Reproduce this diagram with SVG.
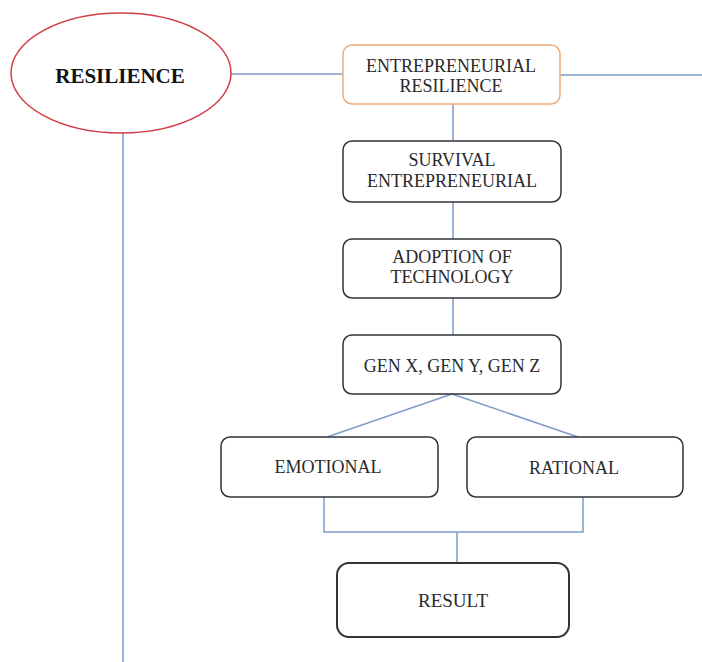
<svg xmlns="http://www.w3.org/2000/svg" width="702" height="662" viewBox="0 0 702 662">
<style>
.box{fill:#ffffff;stroke:#333333;stroke-width:1.5}
.orange{fill:#ffffff;stroke:#f0ad78;stroke-width:1.5}
.ell{fill:#ffffff;stroke:#d43c46;stroke-width:1.5}
.con{fill:none;stroke:#7f9ccb;stroke-width:1.5}
.t{font-family:"Liberation Serif","Times New Roman",serif;font-size:18px;fill:#2a2a2a;text-anchor:middle}
.tb{font-family:"Liberation Serif","Times New Roman",serif;font-size:21px;font-weight:bold;fill:#111111;text-anchor:middle}
</style>
<rect width="702" height="662" fill="#ffffff"/>
<g id="connectors">
<line class="con" x1="231" y1="74" x2="343" y2="74"/>
<line class="con" x1="560" y1="75" x2="702" y2="75"/>
<line class="con" x1="123" y1="133" x2="123" y2="662"/>
<line class="con" x1="453" y1="104" x2="453" y2="141"/>
<line class="con" x1="453" y1="202" x2="453" y2="239"/>
<line class="con" x1="453" y1="298" x2="453" y2="335"/>
<line class="con" x1="452" y1="394" x2="327" y2="437"/>
<line class="con" x1="452" y1="394" x2="578" y2="437"/>
<polyline class="con" points="324,497 324,532 583,532 583,497"/>
<line class="con" x1="457" y1="532" x2="457" y2="563"/>
</g>
<g id="resilience">
<ellipse class="ell" cx="121" cy="73" rx="110" ry="60"/>
<text class="tb" x="120" y="83">RESILIENCE</text>
</g>
<g id="entrepreneurial-resilience">
<rect class="orange" x="343" y="45" width="217" height="59" rx="9"/>
<text class="t" x="451" y="72">ENTREPRENEURIAL</text>
<text class="t" x="451" y="92">RESILIENCE</text>
</g>
<g id="survival">
<rect class="box" x="343" y="141" width="218" height="61" rx="9"/>
<text class="t" x="452" y="166">SURVIVAL</text>
<text class="t" x="452" y="187">ENTREPRENEURIAL</text>
</g>
<g id="adoption">
<rect class="box" x="343" y="239" width="218" height="59" rx="9"/>
<text class="t" x="452" y="263">ADOPTION OF</text>
<text class="t" x="452" y="283">TECHNOLOGY</text>
</g>
<g id="gen">
<rect class="box" x="343" y="335" width="218" height="59" rx="9"/>
<text class="t" x="452" y="372">GEN X, GEN Y, GEN Z</text>
</g>
<g id="emotional">
<rect class="box" x="221" y="437" width="217" height="60" rx="9"/>
<text class="t" x="328" y="473">EMOTIONAL</text>
</g>
<g id="rational">
<rect class="box" x="467" y="437" width="216" height="60" rx="9"/>
<text class="t" x="574" y="474">RATIONAL</text>
</g>
<g id="result">
<rect class="box" x="337" y="563" width="232" height="74" rx="12" style="stroke-width:2"/>
<text class="t" x="453" y="607" style="font-size:19px">RESULT</text>
</g>
</svg>
